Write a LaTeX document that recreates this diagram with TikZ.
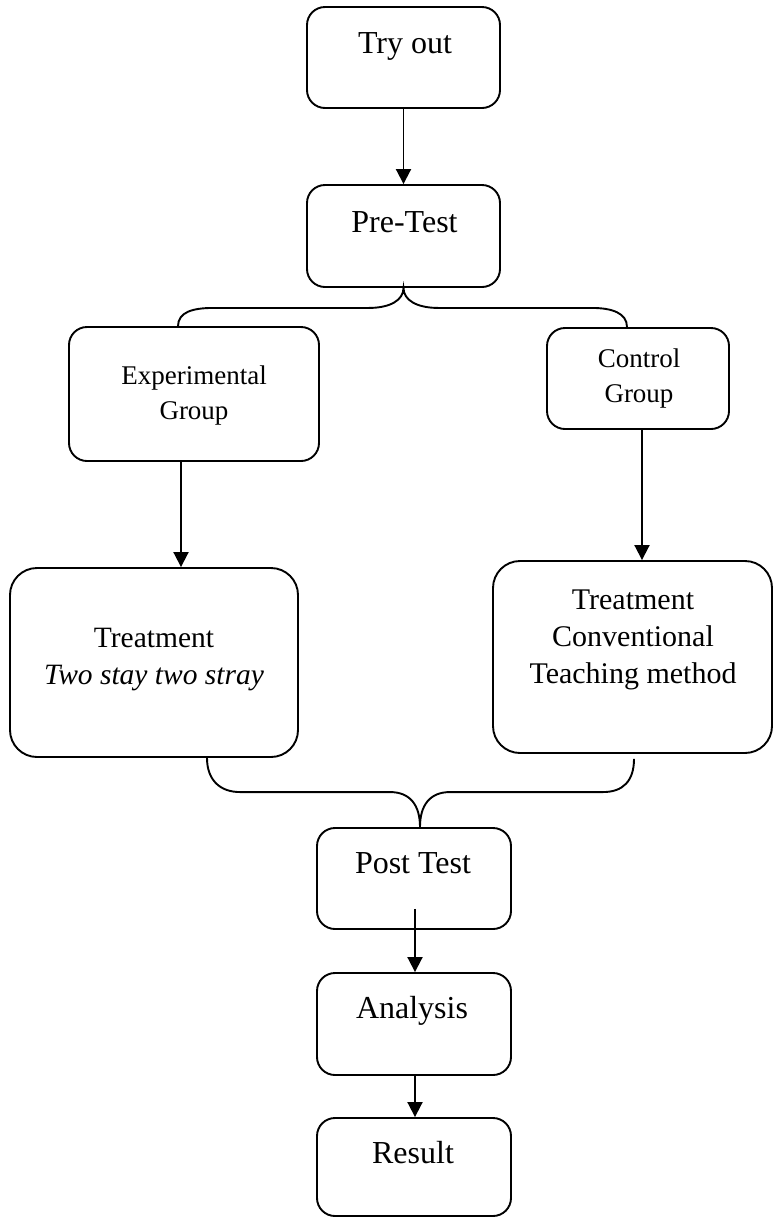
\documentclass[tikz,border=0pt]{standalone}
\usepackage{fontspec}
\setmainfont{Liberation Serif}
\usetikzlibrary{arrows.meta,calc}
\begin{document}
\begin{tikzpicture}[x=1pt,y=-1pt,
  box/.style={draw,line width=1.9pt,rounded corners=18pt,inner sep=0pt},
  bigbox/.style={box,rounded corners=27pt},
  txt/.style={inner sep=0pt,anchor=base},
  big/.style={font=\fontsize{32}{36}\selectfont},
  mid/.style={font=\fontsize{29.5}{37.5}\selectfont},
  sml/.style={font=\fontsize{27}{35.5}\selectfont},
  arr/.style={line width=1.9pt,-{Triangle[width=15pt,length=15pt]}},
  brace/.style={line width=1.9pt}]
\useasboundingbox (0,0) rectangle (774,1219);

% boxes
\node[box,minimum width=193pt,minimum height=101pt] (try) at (403.5,57.5) {};
\node[box,minimum width=193pt,minimum height=102pt] (pre) at (403.5,236) {};
\node[box,minimum width=250pt,minimum height=134pt] (exp) at (194,394) {};
\node[box,minimum width=182pt,minimum height=101pt] (ctl) at (638,378.5) {};
\node[bigbox,minimum width=288pt,minimum height=189pt] (tl) at (154,662.5) {};
\node[bigbox,minimum width=279pt,minimum height=192pt] (tr) at (632.5,657) {};
\node[box,minimum width=194pt,minimum height=101pt] (post) at (414,878.5) {};
\node[box,minimum width=194pt,minimum height=102pt] (ana) at (414,1024) {};
\node[box,minimum width=194pt,minimum height=98pt] (res) at (414,1167) {};

% texts
\node[txt,big] (tryt) at (405,53) {Try out};
\node[txt,big] (pret) at (404.5,232) {Pre-Test};
\node[txt,sml] (expt) at (194,384) {\begin{tabular}[t]{@{}c@{}}Experimental\\Group\end{tabular}};
\node[txt,sml] (ctlt) at (639,367) {\begin{tabular}[t]{@{}c@{}}Control\\Group\end{tabular}};
\node[txt,mid] (tlt) at (154,647) {\begin{tabular}[t]{@{}c@{}}Treatment\\\textit{Two stay two stray}\end{tabular}};
\node[txt,font=\fontsize{30}{37}\selectfont] (trt) at (633,609) {\begin{tabular}[t]{@{}c@{}}Treatment\\Conventional\\Teaching method\end{tabular}};
\node[txt,big] (postt) at (413,873) {Post Test};
\node[txt,big] (anat) at (412,1018) {Analysis};
\node[txt,big] (rest) at (413,1163) {Result};

% arrows
\draw[arr] (try.south) -- (pre.north);
\draw[arr] ([xshift=-13pt]exp.south) -- ([xshift=-13pt]exp.south |- tl.north);
\draw[arr] ([xshift=4pt]ctl.south) -- ([xshift=4pt]ctl.south |- tr.north);
\draw[arr] ([xshift=1pt,yshift=21pt]post.south) -- ([xshift=1pt]ana.north);
\draw[arr] ([xshift=1pt]ana.south) -- ([xshift=1pt]res.north);

% top brace
\coordinate (tb) at ($(pre.south)+(0,20)$);
\coordinate (tbL) at ([xshift=-16pt]exp.north);
\coordinate (tbR) at ([xshift=-11pt]ctl.north);
\draw[brace] (tbL) .. controls +(0,-14) and +(-20,0) .. ($(tbL |- tb)+(35,0)$)
  -- ($(pre.south |- tb)+(-35,0)$) .. controls +(22,0) and +(0,12) .. (pre.south)
  .. controls +(0,12) and +(-22,0) .. ($(pre.south |- tb)+(35,0)$)
  -- ($(tbR |- tb)+(-35,0)$) .. controls +(20,0) and +(0,-14) .. (tbR);

% bottom brace
\coordinate (bbT) at ([xshift=6pt]post.north);
\coordinate (bb) at ($(bbT)+(0,-35)$);
\coordinate (bbL) at ([xshift=53pt]tl.south);
\coordinate (bbR) at ($(tr.south)+(1.5,5)$);
\draw[brace] (bbL) .. controls +(0,22) and +(-20,0) .. ($(bbL |- bb)+(33,0)$)
  -- ($(bbT |- bb)+(-30,0)$) .. controls +(20,0) and +(0,-22) .. (bbT)
  .. controls +(0,-22) and +(-20,0) .. ($(bbT |- bb)+(30,0)$)
  -- ($(bbR |- bb)+(-31,0)$) .. controls +(20,0) and +(0,22) .. (bbR);
\end{tikzpicture}
\end{document}
